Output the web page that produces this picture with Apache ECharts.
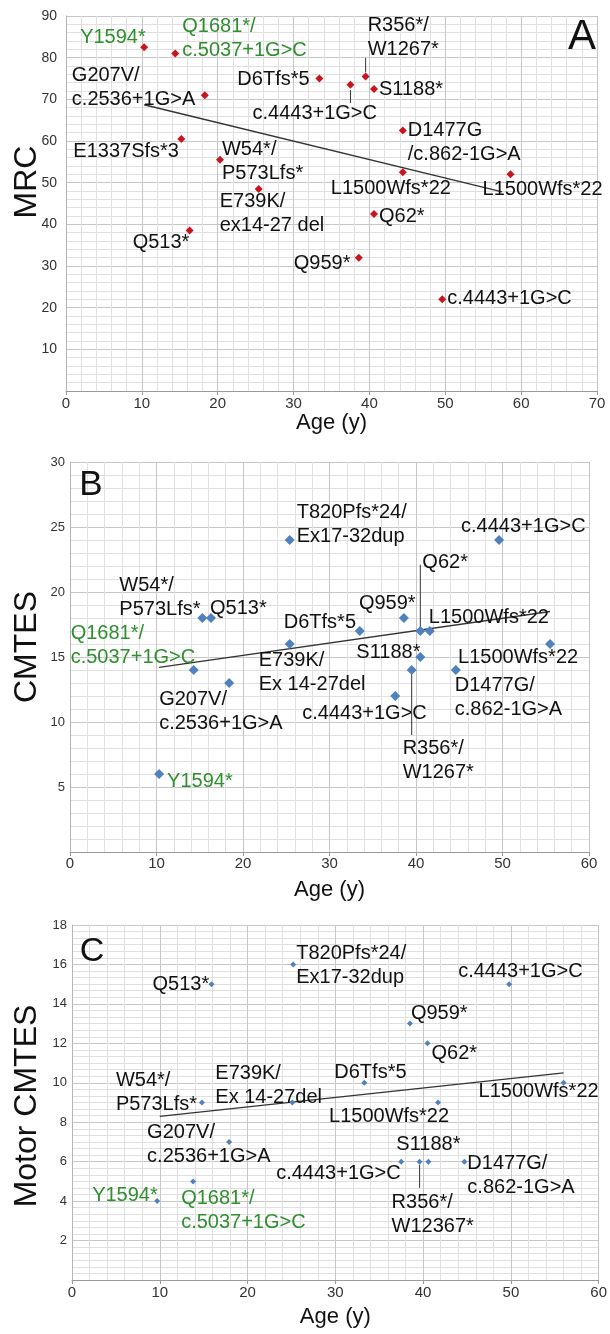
<!DOCTYPE html>
<html>
<head>
<meta charset="utf-8">
<script src="https://cdn.jsdelivr.net/npm/echarts@6.0.0/dist/echarts.min.js"></script>
<style>
  html, body { margin: 0; padding: 0; background: #fff; }
  #chart { width: 610px; height: 1334px; }
</style>
</head>
<body>
<div id="chart"></div>
<script>
// ---- panel A : MRC ----
const mutA = ['Y1594*', 'Q1681*/\nc.5037+1G>C', 'G207V/\nc.2536+1G>A', 'D6Tfs*5', 'c.4443+1G>C',
  'R356*/\nW1267*', 'S1188*', 'D1477G\n/c.862-1G>A', 'E1337Sfs*3', 'W54*/\nP573Lfs*',
  'L1500Wfs*22', 'L1500Wfs*22', 'E739K/\nex14-27 del', 'Q62*', 'Q513*', 'Q959*', 'c.4443+1G>C'];
const ageA = [10.3, 14.4, 18.3, 33.4, 37.5, 39.5, 40.6, 44.4, 15.2, 20.3, 44.4, 58.6, 25.4, 40.6, 16.3, 38.6, 49.6];
const mrcA = [82.5, 81, 71, 75, 73.5, 75.5, 72.5, 62.5, 60.5, 55.5, 52.5, 52, 48.5, 42.5, 38.5, 32, 22];
const trendA = [[10.3, 68.7], [57.5, 47.8]];
const leadA = [[[37.5, 72.2], [37.5, 69.1]], [[39.5, 79.9], [39.5, 76.5]]];
const xTicksA = [0, 10, 20, 30, 40, 50, 60, 70];
const yTicksA = [0, 10, 20, 30, 40, 50, 60, 70, 80, 90];

// ---- panel B : CMTES ----
const mutB = ['T820Pfs*24/\nEx17-32dup', 'c.4443+1G>C', 'W54*/\nP573Lfs*', 'Q513*', 'D6Tfs*5', 'Q959*',
  'Q62*', 'L1500Wfs*22', 'E739K/\nEx 14-27del', 'L1500Wfs*22', 'S1188*', 'Q1681*/\nc.5037+1G>C',
  'R356*/\nW1267*', 'D1477G/\nc.862-1G>A', 'G207V/\nc.2536+1G>A', 'c.4443+1G>C', 'Y1594*'];
const ageB = [25.4, 49.6, 15.3, 16.3, 33.5, 38.6, 40.5, 41.6, 25.4, 55.5, 40.5, 14.3, 39.5, 44.6, 18.4, 37.6, 10.3];
const cmtesB = [24, 24, 18, 18, 17, 18, 17, 17, 16, 16, 15, 14, 14, 14, 13, 12, 6];
const trendB = [[10.3, 14.2], [55.5, 18.5]];
const leadB = [[[40.5, 22.1], [40.5, 17.3]], [[39.5, 13.8], [39.5, 9.0]]];
const xTicksB = [0, 10, 20, 30, 40, 50, 60];
const yTicksB = [0, 5, 10, 15, 20, 25, 30];

// ---- panel C : Motor CMTES ----
const mutC = ['T820Pfs*24/\nEx17-32dup', 'Q513*', 'c.4443+1G>C', 'Q959*', 'Q62*', 'D6Tfs*5', 'L1500Wfs*22',
  'W54*/\nP573Lfs*', 'E739K/\nEx 14-27del', 'L1500Wfs*22', 'G207V/\nc.2536+1G>A', 'c.4443+1G>C',
  'R356*/\nW12367*', 'S1188*', 'D1477G/\nc.862-1G>A', 'Q1681*/\nc.5037+1G>C', 'Y1594*'];
const ageC = [25.2, 15.9, 49.8, 38.5, 40.5, 33.3, 56, 14.8, 25.1, 41.7, 17.9, 37.5, 39.6, 40.6, 44.7, 13.8, 9.7];
const motorC = [16, 15, 15, 13, 12, 10, 10, 9, 9, 9, 7, 6, 6, 6, 6, 5, 4];
const trendC = [[10, 8.3], [56, 10.5]];
const leadC = [[[39.6, 5.84], [39.6, 4.67]]];
const xTicksC = [0, 10, 20, 30, 40, 50, 60];
const yTicksC = [0, 2, 4, 6, 8, 10, 12, 14, 16, 18];

// label placement, px from point (layout only)
const offA = [[-64, -10], [7, -15], [-133, -8], [-82, 1], [-98, 29], [2, -39], [5, 1], [5, 12], [-108, 13],
  [2, 2], [-72, 16], [-28, 15], [-39, 25], [5, 3], [-57, 12], [-65, 6], [5, -1]];
const offB = [[7, -16], [-38, -14], [-83, -21], [-1, -10], [-76, -9], [-45, -15], [2, -69], [-1, -14],
  [-31, 28], [-92, 13], [-64, -5], [-123, -25], [-9, 90], [-1, 27], [-70, 28], [-93, 17], [8, 7]];
const offC = [[3, 1], [-59, 0], [-51, -13], [1, -10], [4, 10], [-30, -10], [-85, 9], [-86, -10], [-77, -17],
  [-109, 14], [-82, 3], [-125, 12], [-28, 53], [-32, -17], [3, 14], [-12, 29], [-65, -6]];

const F = '"Liberation Sans", Arial, Helvetica, sans-serif';
const GREEN = '#2f8f2f';
const isGreen = (n) => n.startsWith('Y1594') || n.startsWith('Q1681');

function points(ages, vals, names, offs) {
  return ages.map((a, i) => ({
    value: [a, vals[i]],
    name: names[i],
    label: { offset: offs[i], color: isGreen(names[i]) ? GREEN : '#111' }
  }));
}

function xAxis(gi, ticks, gap, margin) {
  return {
    type: 'value', gridIndex: gi, min: ticks[0], max: ticks[ticks.length - 1], interval: ticks[1] - ticks[0],
    name: 'Age (y)', nameLocation: 'middle', nameGap: gap,
    nameTextStyle: { fontSize: 22, color: '#111', fontFamily: F },
    axisLine: { show: true, lineStyle: { color: '#9a9a9a', width: 1 } },
    axisTick: { show: true, length: 4, lineStyle: { color: '#9a9a9a' } },
    axisLabel: { fontSize: 15, color: '#333', margin: margin, fontFamily: F },
    splitLine: { show: true, lineStyle: { color: '#c6c6c6', width: 1 } },
    minorTick: { show: false, splitNumber: 5 },
    minorSplitLine: { show: true, lineStyle: { color: '#e0e0e0', width: 1 } }
  };
}

function yAxis(gi, ticks, minor, margin, fs) {
  return {
    type: 'value', gridIndex: gi, min: ticks[0], max: ticks[ticks.length - 1], interval: ticks[1] - ticks[0],
    axisLine: { show: true, lineStyle: { color: '#b5b5b5', width: 1 } },
    axisTick: { show: false },
    axisLabel: { fontSize: fs, color: '#333', margin: margin, fontFamily: F,
      formatter: (v) => (v === 0 ? '' : v) },
    splitLine: { show: true, lineStyle: { color: '#c6c6c6', width: 1 } },
    minorTick: { show: false, splitNumber: minor },
    minorSplitLine: { show: true, lineStyle: { color: '#e0e0e0', width: 1 } }
  };
}

function scatter(gi, data, color, size) {
  return {
    type: 'scatter', xAxisIndex: gi, yAxisIndex: gi, symbol: 'diamond', symbolSize: size,
    itemStyle: { color: color, opacity: 1 }, z: 5,
    label: {
      show: true, position: 'inside', align: 'left', verticalAlign: 'middle', opacity: 1,
      formatter: (p) => p.name, fontSize: 20, lineHeight: 24, fontFamily: F,
      textBorderWidth: 0
    },
    data: data
  };
}

function line(gi, data, w) {
  return {
    type: 'line', xAxisIndex: gi, yAxisIndex: gi, data: data, symbol: 'none', silent: true,
    lineStyle: { color: '#333', width: w }, z: 3
  };
}

const series = [
  scatter(0, points(ageA, mrcA, mutA, offA), '#c8141c', 8),
  scatter(1, points(ageB, cmtesB, mutB, offB), '#4f81bd', 10),
  scatter(2, points(ageC, motorC, mutC, offC), '#4f81bd', 6),
  line(0, trendA, 1.3), line(1, trendB, 1.3), line(2, trendC, 1.3)
];
leadA.forEach((d) => series.push(line(0, d, 1)));
leadB.forEach((d) => series.push(line(1, d, 1)));
leadC.forEach((d) => series.push(line(2, d, 1)));

function title(text, x, y, size, rot) {
  return {
    type: 'text', x: x, y: y, rotation: rot ? Math.PI / 2 : 0, z: 100,
    style: {
      text: text, fontSize: size, fontFamily: F, fill: '#111',
      stroke: null, lineWidth: 0, align: 'center', verticalAlign: 'middle'
    }
  };
}

const myChart = echarts.init(document.getElementById('chart'));
myChart.setOption({
  animation: false,
  backgroundColor: '#fff',
  grid: [
    { left: 66, top: 16, width: 531, height: 375 },
    { left: 70, top: 462, width: 519, height: 390 },
    { left: 72, top: 925, width: 527, height: 355 }
  ],
  xAxis: [xAxis(0, xTicksA, 20, 5), xAxis(1, xTicksB, 27, 4), xAxis(2, xTicksC, 26, 5)],
  yAxis: [yAxis(0, yTicksA, 5, 9, 14), yAxis(1, yTicksB, 5, 5, 13), yAxis(2, yTicksC, 6, 5, 13)],
  series: series,
  graphic: [
    title('MRC', 27, 182, 32, true),
    title('CMTES', 27, 647, 32, true),
    title('Motor CMTES', 27, 1106, 32, true),
    title('A', 582, 37, 42),
    title('B', 91, 485, 35),
    title('C', 92, 952, 34)
  ]
});
</script>
</body>
</html>
